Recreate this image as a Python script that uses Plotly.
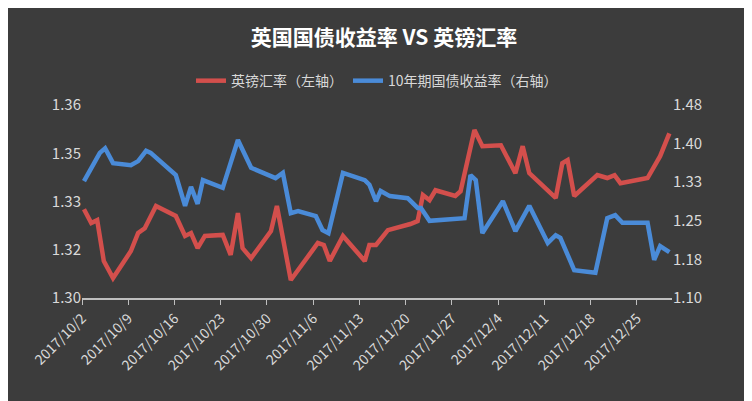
import plotly.graph_objects as go
import pandas as pd

start = pd.Timestamp("2017-10-02")
gbp_days = [0.3,1.4,2.3,3.3,4.7,7.4,8.5,9.5,11.2,14.2,15.6,16.5,17.5,18.6,21.3,22.5,23.6,24.3,25.6,28.6,29.5,31.6,35.7,36.6,37.5,39.5,42.8,43.5,44.5,46.3,49.7,50.8,51.6,52.6,53.5,56.5,57.3,59.4,60.6,63.4,65.6,66.7,67.7,71.7,72.7,73.5,74.5,78,79.5,80.6,81.5,85.6,87.5,88.9]
gbp = [1.3276,1.3233,1.3242,1.3115,1.3062,1.3146,1.3202,1.3217,1.3286,1.3255,1.3193,1.3202,1.3155,1.3193,1.3196,1.3134,1.3264,1.3155,1.3124,1.3208,1.3286,1.3056,1.3171,1.3165,1.3115,1.3193,1.3115,1.3165,1.3165,1.3211,1.3230,1.3239,1.3320,1.3304,1.3335,1.3317,1.3332,1.3522,1.3472,1.3475,1.3388,1.3472,1.3388,1.3311,1.3419,1.3429,1.3317,1.3382,1.3373,1.3382,1.3357,1.3373,1.3441,1.3512]
gilt_days = [0.3,2.7,3.5,4.7,7.4,8.5,9.7,10.4,14.2,15.6,16.5,17.5,18.3,21.3,23.6,25.6,29.3,30.4,31.6,32.7,35.4,36.4,37.3,39.5,42.8,43.5,44.5,45.2,46.6,49.3,50.8,51.3,52.6,57.9,58.8,59.6,60.6,63.7,65.6,67.7,70.5,71.7,72.4,74.5,77.7,79.5,80.7,81.8,85.6,86.6,87.5,88.9]
gilt = [1.327,1.382,1.391,1.362,1.358,1.366,1.386,1.382,1.339,1.279,1.316,1.283,1.329,1.314,1.407,1.353,1.333,1.343,1.265,1.269,1.259,1.232,1.226,1.343,1.329,1.320,1.288,1.308,1.298,1.294,1.275,1.275,1.250,1.255,1.339,1.329,1.226,1.288,1.230,1.279,1.207,1.222,1.217,1.154,1.149,1.255,1.261,1.246,1.246,1.174,1.201,1.189]
left_ticks = [1.30,1.315,1.33,1.345,1.36]
left_text = ["1.30","1.32","1.33","1.35","1.36"]
right_ticks = [1.10,1.175,1.25,1.325,1.40,1.475]
right_text = ["1.10","1.18","1.25","1.33","1.40","1.48"]
tick_dates = pd.date_range("2017-10-02", periods=13, freq="7D")

gx = [start + pd.Timedelta(days=d) for d in gbp_days]
bx = [start + pd.Timedelta(days=d) for d in gilt_days]

fig = go.Figure()
fig.add_trace(go.Scatter(x=gx, y=gbp, name="英镑汇率（左轴）", mode="lines",
                         line=dict(color="#d34f4c", width=4.5)))
fig.add_trace(go.Scatter(x=bx, y=gilt, name="10年期国债收益率（右轴）", mode="lines", yaxis="y2",
                         line=dict(color="#4a8bd8", width=4.5)))
font = "Noto Sans CJK SC"
fig.update_layout(
    width=752, height=401, margin=dict(l=74, r=88, t=97, b=111),
    paper_bgcolor="#3c3c3c", plot_bgcolor="rgba(0,0,0,0)",
    font=dict(family=font, color="#d9d9d9", size=13),
    title=dict(text="<b>英国国债收益率 VS 英镑汇率</b>", x=0.5, xanchor="center",
               y=0.925, yanchor="middle", yref="container",
               font=dict(size=21, color="#ffffff", family=font)),
    legend=dict(orientation="h", x=0.5, xanchor="center", y=1.124, yanchor="middle",
                font=dict(size=14, color="#d9d9d9"), bgcolor="rgba(0,0,0,0)"),
    xaxis=dict(type="date", range=[start, start + pd.Timedelta(days=89.3)],
               tickvals=list(tick_dates), ticktext=[f"{d.year}/{d.month}/{d.day}" for d in tick_dates],
               tickangle=-45, showgrid=False, showline=True, linecolor="#bfbfbf", linewidth=1.5,
               ticks="outside", tickcolor="#bfbfbf", ticklen=5, tickfont=dict(size=14), zeroline=False),
    yaxis=dict(range=[1.30, 1.36], tickvals=left_ticks, ticktext=left_text, showgrid=False, zeroline=False,
               tickfont=dict(size=15)),
    yaxis2=dict(range=[1.10, 1.475], tickvals=right_ticks, ticktext=right_text, overlaying="y", side="right",
                showgrid=False, zeroline=False, tickfont=dict(size=15)),
)
fig.write_html("out.html")
